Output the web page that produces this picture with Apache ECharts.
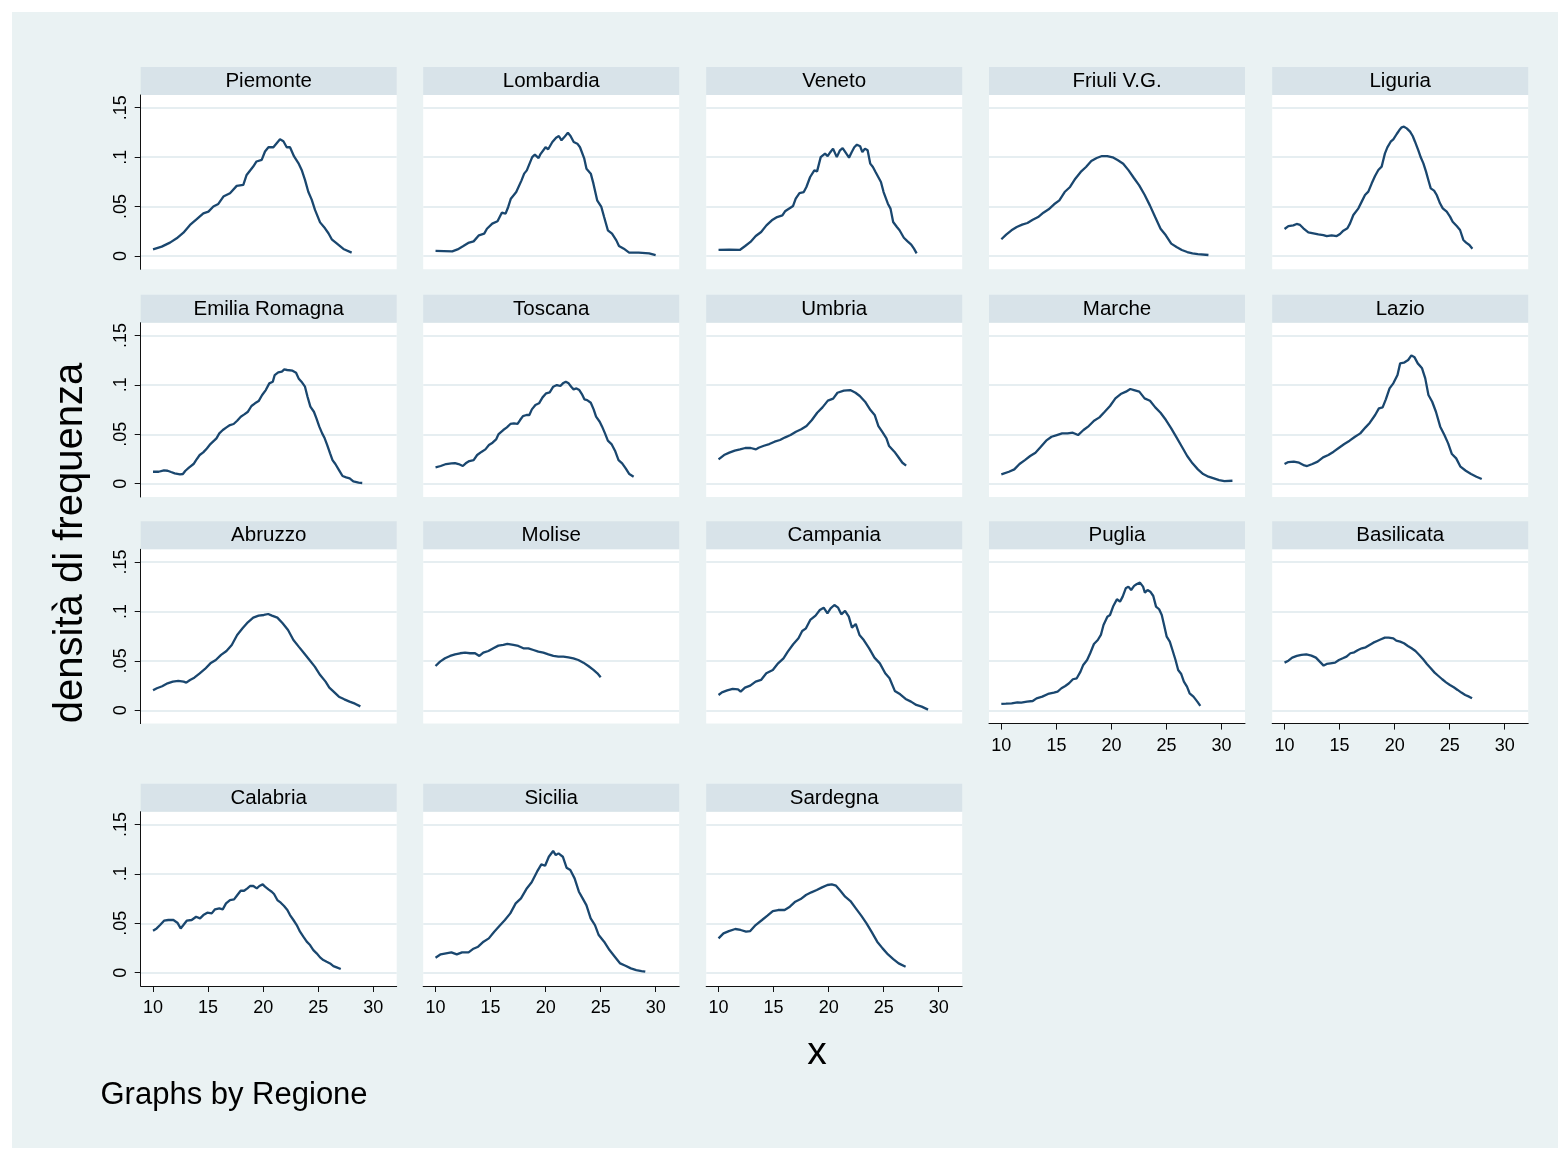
<!DOCTYPE html>
<html><head><meta charset="utf-8">
<script src="https://cdn.jsdelivr.net/npm/echarts@6/dist/echarts.min.js"></script>
<style>
html,body{margin:0;padding:0;background:#fff;}
#wrap{position:relative;width:1562px;height:1150px;}
#bg{position:absolute;left:12px;top:12px;width:1546px;height:1136px;background:#EAF2F3;}
#chart{position:absolute;left:0;top:0;width:1562px;height:1150px;}
</style></head>
<body><div id="wrap"><div id="bg"></div><div id="chart"></div></div>
<script>
const regions = ['Piemonte','Lombardia','Veneto','Friuli V.G.','Liguria','Emilia Romagna','Toscana','Umbria','Marche','Lazio','Abruzzo','Molise','Campania','Puglia','Basilicata','Calabria','Sicilia','Sardegna'];

const piemonte = [[10,.0068],[10.79,.0095],[11.54,.0135],[12.15,.0179],[12.76,.0236],[13.36,.0314],[13.97,.0372],[14.57,.0432],[15.03,.0449],[15.48,.05],[15.93,.0527],[16.39,.0601],[16.99,.0635],[17.6,.0709],[18.2,.072],[18.5,.082],[19.1,.0905],[19.4,.0956],[19.87,.0973],[20.17,.1057],[20.48,.11],[20.93,.11],[21.23,.114],[21.53,.118],[21.84,.116],[22.14,.11],[22.44,.11],[22.81,.1007],[23.2,.094],[23.5,.087],[23.8,.077],[24.1,.065],[24.41,.057],[24.71,.0466],[25.17,.034],[25.62,.028],[25.93,.023],[26.23,.0169],[26.68,.0128],[27.29,.0071],[28.04,.0034]];
const lombardia = [[10,.0051],[11.52,.0047],[12,.0067],[12.49,.0098],[12.97,.0132],[13.46,.0148],[13.94,.0209],[14.42,.0226],[14.67,.0276],[15.15,.0327],[15.63,.0351],[16.02,.0438],[16.36,.0428],[16.6,.0496],[16.84,.058],[17.33,.0647],[17.81,.0765],[18.05,.0833],[18.29,.0866],[18.78,.1],[19.02,.1025],[19.36,.099],[19.5,.1025],[19.99,.11],[20.23,.108],[20.61,.1153],[20.95,.1197],[21.2,.1214],[21.44,.117],[21.68,.12],[22.02,.1247],[22.26,.1214],[22.55,.1153],[22.88,.1136],[23.12,.11],[23.51,.0984],[23.71,.0883],[24.1,.0833],[24.34,.0732],[24.68,.0563],[25.06,.0496],[25.31,.0394],[25.65,.026],[26.03,.0226],[26.42,.0158],[26.66,.0101],[27.1,.0074],[27.58,.0034],[28.45,.0034],[29.4,.0027],[29.99,.001]];
const veneto = [[10,.0061],[10.97,.0064],[11.93,.0061],[12.42,.0101],[12.9,.0142],[13.38,.0202],[13.87,.0243],[14.35,.031],[14.84,.0361],[15.32,.0394],[15.8,.0411],[16.04,.0452],[16.77,.0506],[17.01,.058],[17.35,.0637],[17.74,.0647],[17.98,.0698],[18.32,.0799],[18.7,.0866],[18.95,.0856],[19.28,.1],[19.67,.1035],[19.91,.101],[20.15,.105],[20.4,.1086],[20.74,.1],[21.03,.1069],[21.27,.1092],[21.61,.1035],[21.85,.0995],[22.09,.105],[22.33,.11],[22.57,.1126],[22.86,.111],[23.06,.105],[23.3,.1086],[23.54,.1069],[23.78,.0934],[24.02,.09],[24.26,.085],[24.75,.0749],[24.99,.0647],[25.38,.0529],[25.62,.0479],[25.86,.0344],[26.2,.0293],[26.44,.026],[26.83,.0185],[27.17,.0148],[27.5,.0115],[27.75,.0074],[27.99,.0027]];
const friuli = [[10,.0169],[10.44,.0216],[10.92,.026],[11.4,.0293],[11.89,.0317],[12.37,.0334],[12.85,.0367],[13.34,.0394],[13.82,.0438],[14.3,.0472],[14.79,.0523],[15.27,.0563],[15.75,.0647],[16.24,.0698],[16.72,.0782],[17.21,.085],[17.69,.09],[18.17,.0961],[18.66,.0991],[19.14,.1011],[19.62,.1011],[20.11,.0998],[20.59,.0968],[21.07,.0934],[21.56,.0866],[22.04,.0789],[22.52,.0715],[23.01,.062],[23.49,.0512],[23.97,.0394],[24.46,.0276],[24.94,.0209],[25.43,.0125],[25.91,.0091],[26.39,.0061],[26.88,.004],[27.36,.0027],[27.84,.002],[28.81,.001]];
const liguria = [[10,.0273],[10.35,.0303],[10.8,.031],[11.1,.0324],[11.41,.0314],[11.71,.028],[12.16,.0239],[12.62,.0229],[13.07,.0219],[13.53,.0212],[13.83,.0202],[14.28,.0209],[14.74,.0202],[15.04,.0223],[15.34,.0256],[15.71,.028],[15.95,.033],[16.25,.0415],[16.71,.0482],[17.01,.055],[17.31,.0617],[17.61,.0651],[17.92,.0735],[18.22,.0809],[18.52,.087],[18.82,.0904],[18.97,.0971],[19.12,.1038],[19.34,.1099],[19.64,.1156],[19.88,.118],[20.19,.1234],[20.43,.1274],[20.64,.1301],[20.85,.1308],[21.1,.1291],[21.4,.1258],[21.64,.1214],[21.85,.1156],[22.16,.1065],[22.37,.0998],[22.61,.0937],[22.85,.0853],[23.06,.0769],[23.28,.0684],[23.58,.0661],[23.82,.0617],[24.12,.0533],[24.37,.0482],[24.73,.0448],[25.03,.0398],[25.27,.0347],[25.64,.0303],[25.94,.0263],[26.24,.0162],[26.49,.0135],[26.79,.0111],[27.06,.0074]];
const emilia = [[10,.0121],[10.51,.0121],[10.99,.0135],[11.32,.0131],[11.64,.0118],[11.97,.0105],[12.45,.0094],[12.71,.0098],[12.94,.0131],[13.26,.0162],[13.68,.0199],[13.91,.0239],[14.24,.029],[14.56,.0317],[14.89,.0357],[15.21,.0401],[15.54,.0435],[15.76,.0459],[16.02,.0509],[16.34,.0543],[16.67,.057],[16.99,.0593],[17.32,.0604],[17.64,.0637],[17.97,.0678],[18.29,.0701],[18.62,.0728],[18.94,.0786],[19.26,.0813],[19.59,.0836],[19.91,.0897],[20.24,.0947],[20.56,.1015],[20.88,.1032],[21.05,.1099],[21.37,.1126],[21.7,.1133],[21.92,.1156],[22.18,.115],[22.67,.1143],[22.99,.1123],[23.22,.1065],[23.48,.1032],[23.8,.0981],[24.03,.088],[24.29,.0779],[24.61,.0728],[24.84,.0661],[25.1,.0577],[25.36,.0509],[25.59,.0459],[25.82,.0391],[26.08,.0307],[26.3,.0239],[26.56,.0199],[26.89,.0138],[27.21,.0078],[27.54,.0064],[27.86,.0054],[28.19,.0024],[28.67,.001],[29,.0007]];
const toscana = [[10,.0165],[10.47,.0179],[10.96,.0199],[11.45,.0206],[11.77,.0209],[12.09,.0199],[12.48,.0179],[12.74,.0206],[13.07,.0229],[13.46,.0239],[13.78,.029],[14.2,.0324],[14.53,.0347],[14.85,.0391],[15.18,.0415],[15.5,.0448],[15.73,.0502],[16.15,.0543],[16.48,.057],[16.8,.0604],[17.12,.061],[17.45,.0604],[17.68,.0644],[17.94,.0684],[18.26,.0695],[18.52,.0695],[18.75,.0752],[19.07,.0796],[19.4,.0813],[19.72,.0873],[20.05,.0914],[20.37,.0924],[20.69,.0981],[21.02,.0998],[21.34,.0988],[21.57,.1015],[21.83,.1032],[22.09,.1015],[22.32,.0981],[22.54,.0954],[22.8,.0964],[23.06,.0947],[23.29,.0907],[23.52,.0853],[23.77,.0846],[24.1,.0819],[24.36,.0752],[24.58,.0678],[24.91,.0627],[25.13,.0577],[25.39,.0509],[25.65,.0435],[25.98,.0401],[26.3,.0334],[26.62,.0239],[26.95,.0206],[27.27,.0155],[27.6,.0098],[27.99,.0071]];
const umbria = [[10,.0246],[10.5,.029],[10.98,.0314],[11.47,.0334],[11.95,.0347],[12.43,.0361],[12.92,.0361],[13.4,.0347],[13.64,.0364],[14.12,.0384],[14.61,.0401],[15.09,.0425],[15.58,.0442],[16.06,.0469],[16.54,.0492],[17.03,.0526],[17.51,.055],[17.99,.0583],[18.48,.0644],[18.96,.0718],[19.44,.0772],[19.93,.084],[20.41,.086],[20.8,.092],[21.38,.0941],[21.96,.0947],[22.44,.092],[22.83,.0887],[23.31,.0829],[23.8,.0745],[24.18,.0695],[24.52,.0583],[24.86,.0526],[25.25,.0459],[25.49,.0381],[25.97,.0324],[26.31,.0273],[26.7,.0212],[27.04,.0182]];
const marche = [[10,.0094],[10.69,.0121],[11.18,.0145],[11.65,.0199],[12.14,.0239],[12.62,.028],[13.1,.0314],[13.59,.0374],[14.07,.0435],[14.56,.0475],[15.04,.0492],[15.52,.0509],[16.01,.0509],[16.49,.0516],[16.97,.0492],[17.46,.0543],[17.94,.0583],[18.42,.0637],[18.91,.0671],[19.39,.0728],[19.87,.0786],[20.36,.0863],[20.84,.0907],[21.32,.0931],[21.71,.0958],[22.05,.0947],[22.53,.0931],[23.01,.0863],[23.5,.0839],[23.98,.0772],[24.46,.0718],[24.95,.0644],[25.43,.056],[25.91,.0469],[26.4,.0374],[26.88,.028],[27.36,.0206],[27.85,.0145],[28.33,.0098],[28.81,.0071],[29.3,.0054],[29.78,.0037],[30.26,.0027],[30.99,.003]];
const lazio = [[10,.0199],[10.35,.0219],[10.84,.0223],[11.32,.0212],[11.8,.0185],[12.05,.0179],[12.53,.0199],[13.01,.0223],[13.5,.0266],[13.98,.029],[14.46,.0324],[14.95,.0364],[15.43,.0401],[15.91,.0435],[16.4,.0475],[16.88,.0509],[17.36,.057],[17.75,.0617],[18.23,.0695],[18.57,.0762],[18.91,.0772],[19.2,.0853],[19.54,.0964],[19.88,.1015],[20.26,.1099],[20.5,.1217],[20.84,.1224],[21.23,.1251],[21.52,.1298],[21.81,.1278],[22.1,.1217],[22.49,.1167],[22.78,.1065],[23.07,.0897],[23.41,.0829],[23.75,.0728],[24.14,.0577],[24.52,.0492],[24.86,.0408],[25.2,.03],[25.59,.0256],[25.98,.0172],[26.46,.0131],[26.94,.0098],[27.43,.0071],[27.91,.0047]];
const abruzzo = [[10,.0202],[10.35,.0223],[10.83,.0243],[11.32,.0273],[11.8,.029],[12.29,.0297],[12.78,.029],[13.02,.028],[13.36,.0307],[13.75,.033],[14.24,.0374],[14.72,.0418],[15.21,.0475],[15.7,.0509],[16.18,.056],[16.67,.06],[17.15,.0661],[17.64,.0762],[18.13,.0829],[18.61,.089],[19.1,.0937],[19.59,.0958],[20.07,.0964],[20.46,.0974],[20.8,.0958],[21.29,.0937],[21.77,.088],[22.26,.0813],[22.75,.0711],[23.23,.0644],[23.72,.0577],[24.21,.0509],[24.69,.0442],[25.18,.0357],[25.67,.029],[26.01,.0229],[26.4,.0189],[26.88,.0138],[27.37,.0111],[27.85,.0088],[28.34,.0067],[28.83,.004]];
const molise = [[10,.0448],[10.41,.0492],[10.86,.0526],[11.32,.055],[11.77,.0566],[12.23,.0577],[12.68,.0583],[13.13,.0577],[13.59,.0577],[13.98,.055],[14.34,.0583],[14.8,.06],[15.25,.0627],[15.71,.0654],[16.16,.0661],[16.52,.0671],[17.07,.0661],[17.52,.0651],[17.98,.0627],[18.43,.0627],[18.89,.061],[19.34,.0593],[19.79,.0583],[20.25,.0566],[20.7,.055],[21.16,.0543],[21.61,.0543],[22.07,.0536],[22.52,.0526],[22.97,.0509],[23.43,.0482],[23.88,.0448],[24.34,.0408],[24.7,.0374],[25,.0334]];
const campania = [[10,.0155],[10.31,.0182],[10.79,.0202],[11.28,.0216],[11.77,.0212],[12.01,.0189],[12.4,.0229],[12.88,.0249],[13.37,.029],[13.86,.0307],[14.34,.0374],[14.93,.0408],[15.41,.0475],[15.9,.0526],[16.29,.0593],[16.78,.0668],[17.26,.0728],[17.6,.0802],[17.94,.0829],[18.33,.0914],[18.81,.0958],[19.2,.1015],[19.55,.1038],[19.89,.0981],[20.18,.1032],[20.52,.1065],[20.86,.1038],[21.15,.0971],[21.49,.1005],[21.83,.0947],[22.12,.0836],[22.46,.0873],[22.8,.0762],[23.19,.0711],[23.68,.0627],[24.16,.0533],[24.65,.0475],[25.14,.0374],[25.53,.0324],[26.01,.0196],[26.5,.0162],[26.99,.0115],[27.48,.0088],[27.96,.0054],[28.45,.0037],[29.03,.0007]];
const puglia = [[10,.0064],[10.42,.0067],[10.94,.0071],[11.46,.0081],[11.81,.0078],[12.33,.0088],[12.85,.0094],[13.2,.0121],[13.72,.0138],[14.24,.0165],[14.77,.0179],[15.11,.0189],[15.46,.0223],[15.81,.0246],[16.15,.0273],[16.5,.0314],[16.85,.0324],[17.19,.0391],[17.44,.0459],[17.79,.0509],[18.07,.0577],[18.41,.0671],[18.76,.0711],[19.04,.0762],[19.28,.0863],[19.63,.0947],[19.87,.0964],[20.15,.1049],[20.5,.1123],[20.78,.1099],[21.02,.115],[21.3,.1234],[21.54,.1251],[21.79,.1217],[22.06,.1258],[22.31,.1278],[22.59,.1291],[22.87,.1251],[23.04,.119],[23.28,.1217],[23.53,.12],[23.8,.1156],[24.05,.1049],[24.33,.1022],[24.57,.0964],[24.78,.0863],[25.02,.0745],[25.3,.0695],[25.54,.061],[25.82,.0509],[26.06,.0408],[26.34,.0367],[26.58,.029],[26.86,.0239],[27.1,.0172],[27.45,.0138],[27.8,.0088],[28.07,.0044]];
const basilicata = [[10,.0482],[10.35,.0502],[10.7,.0533],[11.12,.055],[11.53,.056],[11.98,.0566],[12.44,.0553],[12.85,.0533],[13.2,.0492],[13.55,.0452],[13.83,.0469],[14.17,.0475],[14.59,.0482],[14.94,.0509],[15.29,.0526],[15.63,.0543],[15.98,.0577],[16.33,.0587],[16.68,.061],[17.02,.0627],[17.37,.0637],[17.72,.0661],[18.07,.0684],[18.41,.0701],[18.76,.0718],[19.11,.0735],[19.46,.0735],[19.88,.0728],[20.15,.0705],[20.5,.0695],[20.85,.0678],[21.2,.0651],[21.54,.0627],[21.89,.06],[22.24,.056],[22.59,.0516],[22.93,.0469],[23.28,.0425],[23.63,.0381],[23.98,.0347],[24.32,.0314],[24.67,.0283],[25.02,.0256],[25.37,.0233],[25.72,.0206],[26.06,.0179],[26.41,.0155],[26.76,.0138],[27.03,.0121]];
const calabria = [[10,.0425],[10.33,.0448],[10.64,.0482],[11,.0526],[11.39,.0533],[11.85,.0533],[12.21,.0506],[12.51,.0448],[12.76,.0482],[13.06,.0526],[13.51,.0533],[13.91,.0566],[14.27,.055],[14.57,.0583],[14.93,.0607],[15.33,.06],[15.63,.0641],[16.02,.0651],[16.33,.0641],[16.63,.0701],[16.99,.0735],[17.36,.0742],[17.66,.0786],[17.96,.0829],[18.27,.0829],[18.57,.0853],[18.81,.0877],[19.11,.0877],[19.42,.0853],[19.66,.0877],[19.96,.0893],[20.17,.087],[20.48,.0843],[20.78,.0819],[20.99,.0796],[21.29,.0735],[21.6,.0708],[21.9,.0674],[22.2,.0634],[22.44,.0583],[22.75,.0533],[23.05,.0482],[23.35,.0415],[23.65,.0364],[23.96,.0314],[24.26,.028],[24.56,.0229],[24.86,.0196],[25.17,.0155],[25.47,.0128],[25.77,.0111],[26.08,.0094],[26.38,.0067],[26.68,.0054],[27.05,.0037]];
const sicilia = [[10,.0152],[10.47,.0186],[10.95,.0196],[11.44,.0206],[11.93,.0185],[12.41,.0206],[13,.0206],[13.39,.0239],[13.87,.0263],[14.36,.0314],[14.84,.0347],[15.33,.0415],[15.82,.0475],[16.3,.0533],[16.79,.06],[17.28,.0701],[17.76,.0752],[18.25,.0846],[18.73,.0914],[19.22,.1022],[19.61,.1096],[19.95,.1082],[20.29,.1173],[20.68,.1231],[20.92,.119],[21.17,.1207],[21.56,.1173],[21.9,.1062],[22.24,.1038],[22.63,.0954],[23.02,.0819],[23.36,.0752],[23.7,.0684],[24.09,.055],[24.48,.0482],[24.82,.0381],[25.31,.0314],[25.8,.0229],[26.28,.0162],[26.77,.0094],[27.25,.0071],[27.74,.0044],[28.23,.0027],[28.71,.0017],[29.05,.001]];
const sardegna = [[10,.0347],[10.45,.0398],[10.94,.0421],[11.52,.0442],[12.01,.0432],[12.5,.0415],[12.88,.0421],[13.37,.0482],[13.95,.0533],[14.44,.0577],[14.93,.0624],[15.41,.0634],[16,.0634],[16.48,.0668],[16.97,.0718],[17.46,.0745],[17.94,.0786],[18.43,.0813],[18.92,.0836],[19.4,.0863],[19.89,.0887],[20.28,.0893],[20.67,.088],[21.01,.0836],[21.5,.0769],[21.98,.0725],[22.47,.0651],[22.96,.0577],[23.44,.0499],[23.93,.0408],[24.41,.0314],[24.9,.0246],[25.39,.0185],[25.87,.0138],[26.36,.0094],[26.99,.0061]];

const densities = [piemonte, lombardia, veneto, friuli, liguria, emilia, toscana, umbria, marche, lazio, abruzzo, molise, campania, puglia, basilicata, calabria, sicilia, sardegna];

const xTicks = [10, 15, 20, 25, 30];
const yTicks = [0, 0.05, 0.1, 0.15];
const yTickLabels = ['0', '.05', '.1', '.15'];
const yTitle = 'densità di frequenza';
const xTitle = 'x';
const byNote = 'Graphs by Regione';

// ---- layout (pixels) ----
const FONT = '"Liberation Sans", Arial, Helvetica, sans-serif';
const colLeft = [140.7, 423.2, 706.2, 989, 1272.2];
const rowTop = [95, 322.7, 549.3, 811.7];
const plotW = 256, plotH = 174.3, stripH = 28;
const X_MIN = 8.88, X_MAX = 32.13, Y_MIN = -0.01345, Y_MAX = 0.16284;
const NAVY = '#1A476F', STRIP = '#D8E3E9', GRID = '#E6EEF1';

const n = regions.length;
const grids = [], xAxes = [], yAxes = [], series = [], graphics = [];
for (let i = 0; i < n; i++) {
  const col = i % 5, row = Math.floor(i / 5);
  const left = colLeft[col], top = rowTop[row];
  const showX = (i + 5 >= n);
  const showY = (col === 0);
  grids.push({left: left, top: top, width: plotW, height: plotH, show: true, backgroundColor: '#fff', borderWidth: 0, containLabel: false});
  xAxes.push({
    gridIndex: i, type: 'value', min: X_MIN, max: X_MAX,
    axisLine: {show: showX, onZero: false, lineStyle: {color: '#111', width: 1}},
    axisTick: {show: showX, length: 6, inside: false, customValues: xTicks, lineStyle: {color: '#111', width: 1}},
    axisLabel: {show: showX, customValues: xTicks, color: '#000', fontSize: 18, fontFamily: FONT, margin: 13},
    splitLine: {show: false}
  });
  yAxes.push({
    gridIndex: i, type: 'value', min: Y_MIN, max: Y_MAX,
    axisLine: {show: showY, onZero: false, lineStyle: {color: '#111', width: 1}},
    axisTick: {show: showY, length: 6, inside: false, customValues: yTicks, lineStyle: {color: '#111', width: 1}},
    axisLabel: {show: showY, customValues: yTicks, rotate: 90, color: '#000', fontSize: 18, fontFamily: FONT, margin: 11,
      formatter: function (v) { let k = 0, d = 1e9; yTicks.forEach((t, j) => { if (Math.abs(t - v) < d) { d = Math.abs(t - v); k = j; } }); return yTickLabels[k]; }},
    splitLine: {show: true, lineStyle: {color: GRID, width: 2}}
  });
  series.push({
    type: 'line', xAxisIndex: i, yAxisIndex: i, data: densities[i],
    showSymbol: false, symbol: 'none', smooth: false, silent: true,
    lineStyle: {color: NAVY, width: 2.3}, z: 5
  });
  graphics.push({type: 'rect', shape: {x: left, y: top - stripH, width: plotW, height: stripH}, style: {fill: STRIP}, silent: true});
  graphics.push({type: 'text', x: left + plotW / 2, y: top - stripH / 2 + 0.5, style: {text: regions[i], fill: '#000', font: '20.5px ' + FONT, align: 'center', verticalAlign: 'middle'}, silent: true});
}
graphics.push({type: 'text', x: 71, y: 543, rotation: Math.PI / 2, style: {text: yTitle, fill: '#000', font: '40px ' + FONT, align: 'center', verticalAlign: 'middle'}, silent: true});
graphics.push({type: 'text', x: 817, y: 1053, style: {text: xTitle, fill: '#000', font: '39px ' + FONT, align: 'center', verticalAlign: 'middle'}, silent: true});
graphics.push({type: 'text', x: 100.5, y: 1095, style: {text: byNote, fill: '#000', font: '31px ' + FONT, align: 'left', verticalAlign: 'middle'}, silent: true});

const chart = echarts.init(document.getElementById('chart'), null, {renderer: 'canvas'});
chart.setOption({
  backgroundColor: 'transparent',
  animation: false,
  grid: grids, xAxis: xAxes, yAxis: yAxes, series: series,
  graphic: {elements: graphics}
});
</script>
</body></html>
